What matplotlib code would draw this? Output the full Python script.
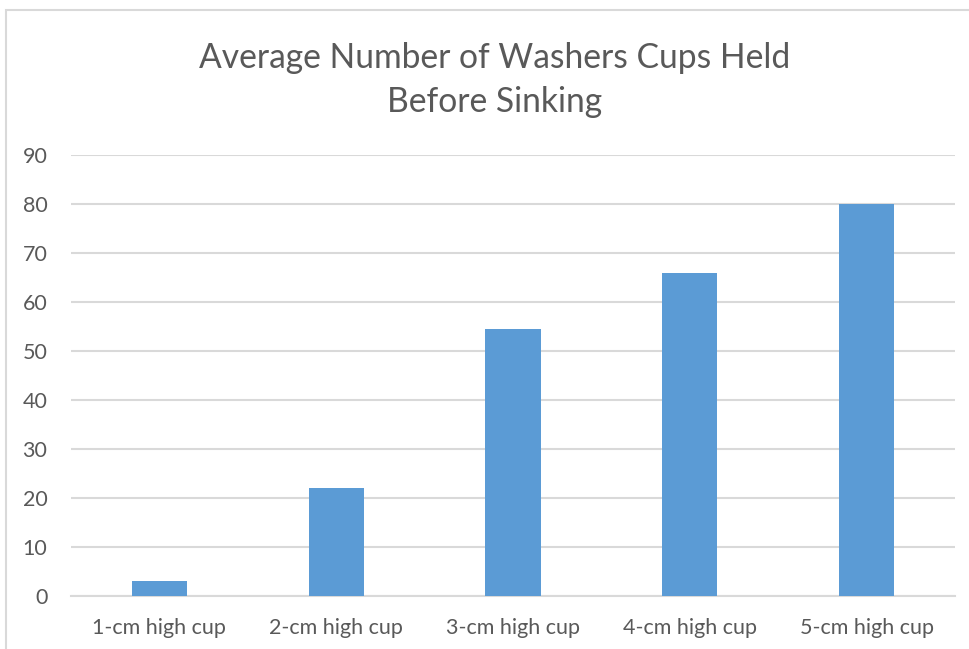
import matplotlib
matplotlib.use("Agg")
import matplotlib.pyplot as plt
from matplotlib.patches import Rectangle

categories = ["1-cm high cup", "2-cm high cup", "3-cm high cup", "4-cm high cup", "5-cm high cup"]
values = [3, 22, 54.4, 66, 80]
yticks = [0, 10, 20, 30, 40, 50, 60, 70, 80, 90]
title = "Average Number of Washers Cups Held\nBefore Sinking"

plt.rcParams['font.family'] = ['Lato', 'DejaVu Sans']

W, H = 969, 649
fig = plt.figure(figsize=(W / 100, H / 100), dpi=100)
fig.patch.set_facecolor("white")

# chart border (cropped on right and bottom)
fig.add_artist(Rectangle((6 / W, -0.1), 1.2, 1.1 - 10 / H, transform=fig.transFigure,
                         fill=False, edgecolor="#D9D9D9", linewidth=1.5))

ax = fig.add_axes([71 / W, 1 - 596 / H, (955 - 71) / W, (596 - 155) / H])
x = list(range(len(categories)))
ax.bar(x, values, width=0.313, color="#5B9BD5", zorder=3)
ax.set_xlim(-0.5, len(categories) - 0.5)
ax.set_ylim(0, 90)
ax.set_yticks(yticks)
ax.set_yticklabels([str(v) for v in yticks])
ax.set_xticks(x)
ax.set_xticklabels(categories)

for s in ["top", "right", "left"]:
    ax.spines[s].set_visible(False)
ax.spines["bottom"].set_color("#D9D9D9")
ax.spines["bottom"].set_linewidth(1.5)
ax.yaxis.grid(True, color="#D9D9D9", linewidth=1.5, zorder=0)
ax.set_axisbelow(True)
ax.tick_params(axis="both", length=0, labelsize=15.5, colors="#595959")
ax.tick_params(axis="y", pad=17)
ax.tick_params(axis="x", pad=16)

fig.text(495 / W, 1 - 80 / H, title, ha="center", va="center", fontsize=24.2,
         color="#595959", linespacing=1.5)

fig.savefig("out.png", dpi=100)
